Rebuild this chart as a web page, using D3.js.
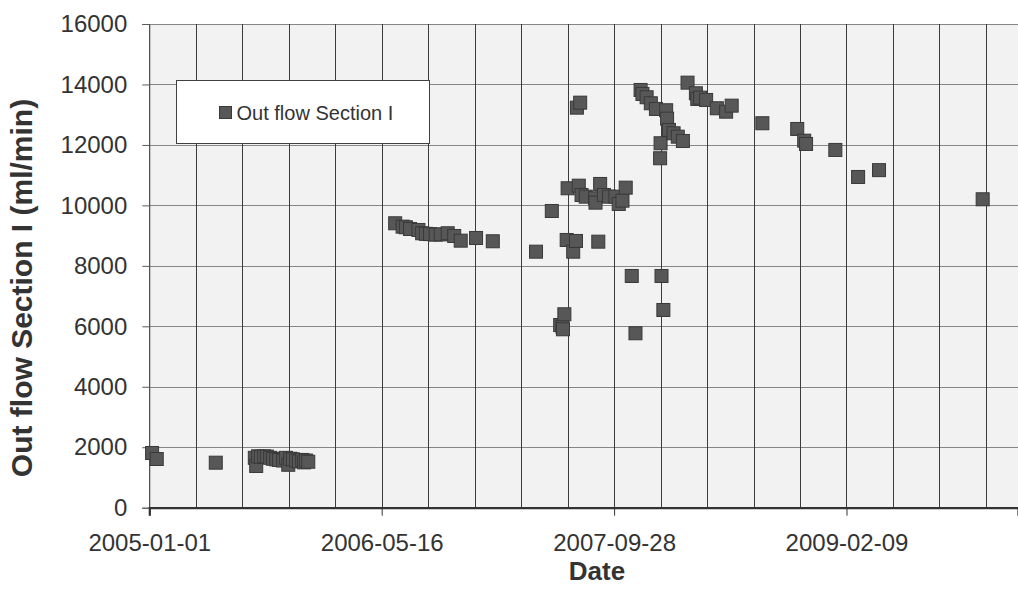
<!DOCTYPE html>
<html>
<head>
<meta charset="utf-8">
<script src="https://cdn.jsdelivr.net/npm/d3@7"></script>
<style>
  html, body { margin: 0; padding: 0; background: #ffffff; }
  svg { display: block; font-family: "Liberation Sans", Arial, sans-serif; }
</style>
</head>
<body>
<svg id="chart" width="1018" height="606"></svg>
<script>
// ---- data ----
const seriesName = "Out flow Section I";
const dates = [
  "2005-01-07","2005-01-17","2005-05-24",
  "2005-08-16","2005-08-19","2005-08-23","2005-08-29","2005-09-05","2005-09-11","2005-09-18",
  "2005-09-24","2005-10-01","2005-10-07","2005-10-16","2005-10-22","2005-10-27","2005-10-31",
  "2005-11-06","2005-11-13","2005-11-19","2005-11-26","2005-11-30","2005-12-04","2005-12-09",
  "2006-06-14","2006-06-30","2006-07-07","2006-07-16","2006-08-03","2006-08-11","2006-08-19",
  "2006-08-28","2006-09-09","2006-09-20","2006-10-05","2006-10-19","2006-11-02","2006-12-05",
  "2007-01-10",
  "2007-04-13","2007-05-17","2007-06-04","2007-06-09","2007-06-10","2007-06-13","2007-06-18",
  "2007-06-20","2007-07-02","2007-07-08","2007-07-10","2007-07-14","2007-07-17","2007-07-20",
  "2007-07-29","2007-08-18","2007-08-19","2007-08-25","2007-08-29","2007-09-06","2007-09-17",
  "2007-10-01","2007-10-08","2007-10-16","2007-10-23","2007-11-05","2007-11-13","2007-11-24",
  "2007-11-28","2007-12-07","2007-12-16","2007-12-27",
  "2008-01-05","2008-01-06","2008-01-08","2008-01-12","2008-01-18","2008-01-20","2008-01-24",
  "2008-02-03","2008-02-12","2008-02-23","2008-03-04","2008-03-22","2008-03-25","2008-03-31",
  "2008-04-13","2008-05-06","2008-05-26","2008-06-07","2008-08-12","2008-10-26","2008-11-10",
  "2008-11-14","2009-01-16","2009-03-06","2009-04-20","2009-11-29"
];
const outflow = [
  1810,1611,1489,
  1650,1380,1700,1680,1700,1690,1650,
  1620,1600,1580,1560,1650,1420,1620,
  1600,1560,1530,1580,1500,1560,1520,
  9408,9297,9276,9220,9187,9078,9060,
  9050,9032,9040,9078,8988,8833,8922,
  8813,
  8469,9815,6044,5988,5902,6398,8856,
  10566,8469,8823,13233,10652,13398,10345,
  10289,10236,10090,8800,10709,10345,10289,
  10289,10047,10156,10586,7665,5770,13818,
  13686,13577,13378,13190,
  11559,12055,7665,6540,13147,12869,12495,
  12386,12273,12131,14060,13709,13520,13564,
  13487,13213,13100,13299,12717,12528,12141,
  12032,11834,10940,11166,10202
];
const xStart = "2005-01-01";
const xEnd = "2010-02-13";
const xLabelStepDays = 500;
const xGridStepDays = 100;
const yTicks = [0,2000,4000,6000,8000,10000,12000,14000,16000];
const yTitle = "Out flow Section I (ml/min)";
const xTitle = "Date";

(function () {
// ---- layout ----
const parse = d3.utcParse("%Y-%m-%d");
const fmt = d3.utcFormat("%Y-%m-%d");
const data = dates.map((d, i) => ({ date: parse(d), value: outflow[i] }));

const pL = 149.3, pR = 1018, pT = 24, pB = 507.7;
const svg = d3.select("#chart");

const x = d3.scaleUtc().domain([parse(xStart), parse(xEnd)]).range([pL, pR]);
const y = d3.scaleLinear().domain([0, 16000]).range([pB, pT]);

const dayMs = 86400000;
const startMs = parse(xStart).getTime();
const endMs = parse(xEnd).getTime();
const gridDates = d3.range(startMs, endMs + 1, xGridStepDays * dayMs).map(t => new Date(t));
const labelDates = d3.range(startMs, endMs + 1, xLabelStepDays * dayMs).map(t => new Date(t));

// plot background
svg.append("rect")
  .attr("x", pL).attr("y", pT)
  .attr("width", pR - pL).attr("height", pB - pT)
  .attr("fill", "#f2f2f2");

// horizontal gridlines
svg.append("g").selectAll("line").data(yTicks.filter(v => v > 0)).join("line")
  .attr("x1", pL).attr("x2", pR)
  .attr("y1", d => Math.round(y(d)) + 0.5).attr("y2", d => Math.round(y(d)) + 0.5)
  .attr("stroke", "#868686").attr("stroke-width", 1.2);

// vertical gridlines
svg.append("g").selectAll("line").data(gridDates).join("line")
  .attr("x1", d => Math.round(x(d)) + 0.5).attr("x2", d => Math.round(x(d)) + 0.5)
  .attr("y1", pT).attr("y2", pB)
  .attr("stroke", "#3c3c3c").attr("stroke-width", 1);

// y axis
const yAxis = d3.axisLeft(y).tickValues(yTicks).tickSize(7).tickPadding(15).tickFormat(d3.format("d"));
const gy = svg.append("g").attr("transform", `translate(${pL},0)`).call(yAxis);
gy.select(".domain").attr("stroke", "#5a5a5a").attr("stroke-width", 1);
gy.selectAll(".tick line").attr("stroke", "#5a5a5a");
gy.selectAll(".tick text").attr("fill", "#333333").style("font-size", "24px")
  .style("font-family", "'Liberation Sans', Arial, sans-serif");

// x axis
const xAxis = d3.axisBottom(x).tickValues(labelDates).tickSize(8).tickPadding(18).tickFormat(fmt);
const gx = svg.append("g").attr("transform", `translate(0,${pB})`).call(xAxis);
gx.select(".domain").attr("stroke", "#333333").attr("stroke-width", 2.2);
gx.selectAll(".tick line").attr("stroke", "#333333");
gx.selectAll(".tick text").attr("fill", "#333333").style("font-size", "24px")
  .style("font-family", "'Liberation Sans', Arial, sans-serif");

// markers
const ms = 13;
svg.append("g").selectAll("rect").data(data).join("rect")
  .attr("x", d => x(d.date) - ms / 2).attr("y", d => y(d.value) - ms / 2)
  .attr("width", ms).attr("height", ms)
  .attr("fill", "#575757").attr("stroke", "#393939").attr("stroke-width", 1);

// legend
const lg = svg.append("g");
lg.append("rect").attr("x", 176.5).attr("y", 80.5).attr("width", 253).attr("height", 63)
  .attr("fill", "#ffffff").attr("stroke", "#404040").attr("stroke-width", 1);
lg.append("rect").attr("x", 219.5).attr("y", 106.5).attr("width", 12).attr("height", 12)
  .attr("fill", "#575757").attr("stroke", "#393939").attr("stroke-width", 1);
lg.append("text").attr("x", 236.5).attr("y", 120).attr("fill", "#333333")
  .style("font-size", "20px").text(seriesName);

// axis titles
svg.append("text")
  .attr("transform", `translate(32,288) rotate(-90)`)
  .attr("text-anchor", "middle").attr("fill", "#333333")
  .style("font-size", "30px").style("font-weight", "bold").text(yTitle);
svg.append("text")
  .attr("x", 597).attr("y", 580).attr("text-anchor", "middle").attr("fill", "#333333")
  .style("font-size", "26px").style("font-weight", "bold").text(xTitle);
})();
</script>
</body>
</html>
